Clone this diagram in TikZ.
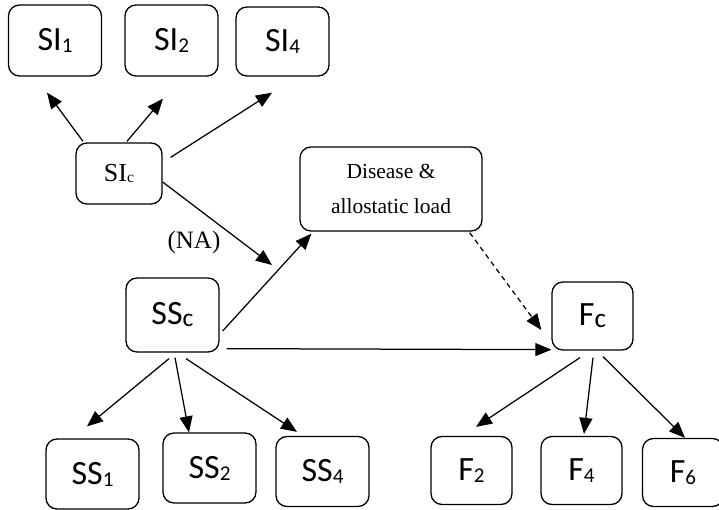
\documentclass[tikz,border=0pt]{standalone}
\usepackage{fontspec}
\setmainfont{Liberation Serif}
\newfontfamily\calibri{Carlito}
\usetikzlibrary{calc, arrows.meta}

% small lowered index (SI_1, F_c, ...)
\newcommand{\lowsub}[2][0.62]{\raisebox{-0.06em}{\scalebox{#1}{#2}}}

\tikzset{
  box/.style={draw, line width=1.3pt, rounded corners=11pt, inner sep=0pt,
    font=\calibri\fontsize{34}{40}\selectfont},
  serifbox/.style={box, font=\fontsize{26}{30}\selectfont},
  arr/.style={line width=1.25pt, -{Triangle[length=16pt, width=13pt]}},
}

\begin{document}
\begin{tikzpicture}[x=1pt, y=-1pt]
  \useasboundingbox (0,0) rectangle (719,510);

  % indicator boxes, top row
  \foreach \n/\x/\y/\h in {1/55/40.5/71, 2/171.5/40.5/71, 4/282.5/41.5/69}
    \node[box, minimum width=93, minimum height=\h] (SI\n) at (\x,\y) {SI\lowsub{\n}};

  % composites
  \node[serifbox, minimum width=86, minimum height=61] (SIc) at (119,173.5) {SI\lowsub[0.6]{c}};
  \node[box, minimum width=93, minimum height=74] (SSc) at (172.5,315) {SS\lowsub[0.75]{c}};
  \node[box, minimum width=81, minimum height=68] (Fc) at (592.5,316) {F\lowsub[0.8]{c}};
  \node[box, minimum width=182, minimum height=84, align=center,
    font=\fontsize{21.5}{35}\selectfont] (Disease) at (391,189) {Disease \&\\allostatic load};

  % indicator boxes, bottom row
  \foreach \n/\x/\y in {1/92.5/474, 2/209.5/468, 4/322.5/471.5}
    \node[box, minimum width=93, minimum height=70] (SS\n) at (\x,\y) {SS\lowsub{\n}};
  \foreach \n/\x/\y in {2/471.5/470.5, 4/581.5/470.5, 6/683/472.5}
    \node[box, minimum width=81, minimum height=68] (F\n) at (\x,\y) {F\lowsub{\n}};

  % path not estimated
  \node[font=\fontsize{25}{30}\selectfont] (NAlabel) at (194,242) {(NA)};
  \coordinate (NAend) at (272,265);
  \draw[arr] ($(SIc.east)+(0,8.5)$) -- (NAend);

  % loadings and paths: start anchor/offset, end anchor/offset
  \foreach \a/\da/\b/\db in {
      SIc.north/{-36,-1}/SI1.south/{-8,16},
      SIc.north/{8,-1}/SI2.south/{-8.5,22},
      SIc.north east/{8,15}/SI4.south/{-10.5,16},
      SSc.east/{3,16}/Disease.south west/{12,2},
      SSc.south east/{7,-4}/Fc.south west/{0,-1},
      SSc.south/{-3.5,6}/SS1.north/{-5.5,-12},
      SSc.south/{2.5,5}/SS2.north/{-20.5,0},
      SSc.south/{13.5,6}/SS4.north/{-25.5,-4},
      Fc.south/{-12.5,7}/F2.north/{4.5,-9},
      Fc.south/{0.5,7}/F4.north/{2.5,-2},
      Fc.south/{10.5,6}/F6.north/{2,0}}
    \draw[arr] ($(\a)+(\da)$) -- ($(\b)+(\db)$);

  % indirect effect
  \draw[arr, dash pattern=on 5pt off 4pt] ($(Disease.south east)+(-13,1)$) -- ($(Fc.west)+(-10,14)$);
\end{tikzpicture}
\end{document}
